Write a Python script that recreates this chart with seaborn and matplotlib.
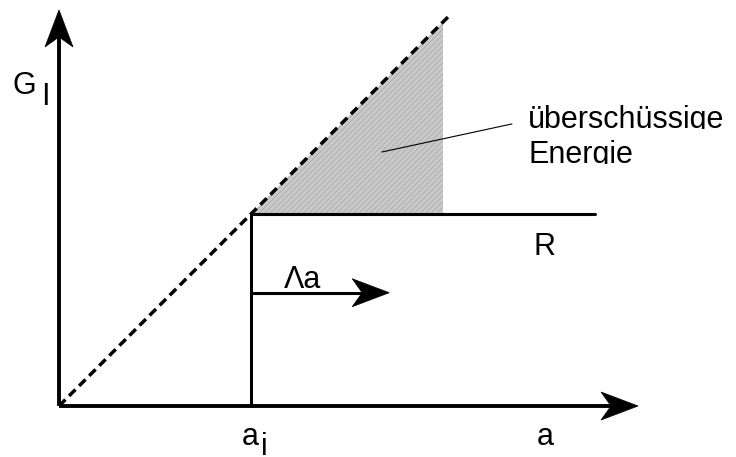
import numpy as np
import matplotlib
matplotlib.use("Agg")
import matplotlib.pyplot as plt
from matplotlib.patches import Polygon
from matplotlib.transforms import Bbox, TransformedBbox
import seaborn as sns

# --- schematic values (units: a_i = 1) ---
a_i = 1.0              # initial crack length
R = 1.0                # crack resistance (equal to G at a_i)
G_line_end = 2.04      # end of the dashed G_I = a line
shade_end = 2.0        # end of the excess-energy area
R_end = 2.79           # end of the R line
delta_a_end = 1.72     # tip of the Δa arrow
delta_a_level = 0.59   # height of the Δa arrow
x_axis_end = 3.016
y_axis_end = 2.063

sns.set_theme(style="white")
plt.rcParams["font.family"] = ["Liberation Sans", "DejaVu Sans"]
plt.rcParams["hatch.linewidth"] = 0.5

fig = plt.figure(figsize=(7.36, 4.57), dpi=100)
ax = fig.add_axes([0, 0, 1, 1])
ax.set_xlim(-59 / 192, (736 - 59) / 192)
ax.set_ylim(-51 / 192, 406 / 192)
ax.set_axis_off()


def arrow(x0, y0, x1, y1, lw, head_len=0.193, half_w=0.073, notch=0.052):
    d = np.array([x1 - x0, y1 - y0], float)
    d /= np.hypot(*d)
    n = np.array([-d[1], d[0]])
    tip = np.array([x1, y1])
    back = tip - d * head_len
    inner = tip - d * (head_len - notch)
    ax.plot([x0, inner[0]], [y0, inner[1]], color="black", lw=lw,
            solid_capstyle="butt", zorder=3)
    ax.add_patch(Polygon([tip, back + n * half_w, inner, back - n * half_w],
                         closed=True, facecolor="black", edgecolor="black",
                         lw=0.5, zorder=4))


def line(xs, ys, **kw):
    sns.lineplot(x=xs, y=ys, ax=ax, color="black", estimator=None,
                 sort=False, **kw)


# excess energy area between G_I line and R
xs = np.array([a_i, shade_end])
ax.fill_between(xs, [R, R], xs, facecolor="#c9c9c9", edgecolor="#a6a6a6",
                hatch="//////", linewidth=0, zorder=1)

# G_I = a (dashed)
line([0, G_line_end], [0, G_line_end], lw=2.5,
     linestyle=(0, (2.6, 1.5)), zorder=2)

# R line and the initial crack length
line([a_i, R_end], [R, R], lw=2.2, zorder=3)
line([a_i, a_i], [0, R], lw=2.2, zorder=3)

# axes with arrowheads
arrow(0, 0, x_axis_end, 0, lw=2.8)
arrow(0, 0, 0, y_axis_end, lw=2.8)

# Δa arrow
arrow(a_i, delta_a_level, delta_a_end, delta_a_level, lw=2.2)

# leader line to the label
ax.plot([1.682, 2.359], [1.323, 1.469], color="black", lw=0.8, zorder=3)

fs = 22
txt = dict(ha="left", va="baseline", fontsize=fs, color="black")
ax.text(-0.240, 1.625, "G", clip_on=False, **txt)
ax.text(-0.095, 1.568, "I", clip_on=False, **txt)
ax.text(0.950, -0.203, "a", clip_on=False, **txt)
ax.text(1.050, -0.255, "i", clip_on=False, **txt)
ax.text(2.49, -0.203, "a", clip_on=False, **txt)
ax.text(2.469, 0.786, "R", clip_on=False, **txt)
ax.text(1.172, 0.615, "Λa", clip_on=False, **txt)

# label lines, cut at their baseline
for y, s in [(1.448, "überschüssige"), (1.266, "Energie")]:
    t = ax.text(2.443, y, s, clip_on=True, **txt)
    t.set_clip_box(TransformedBbox(Bbox([[2.3, y - 1 / 192], [4.0, y + 0.3]]),
                                   ax.transData))

fig.savefig("out.png", dpi=100)
